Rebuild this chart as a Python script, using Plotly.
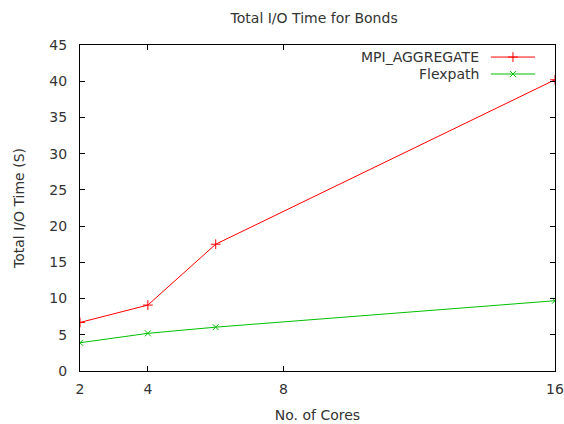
import plotly.graph_objects as go

cores = [2, 4, 6, 16]
mpi_aggregate = [6.7, 9.1, 17.5, 40.2]
flexpath = [3.9, 5.2, 6.05, 9.7]
x_ticks = [2, 4, 8, 16]
y_ticks = [0, 5, 10, 15, 20, 25, 30, 35, 40, 45]

RED = "#ff0000"
GREEN = "#00c000"
FONT = "DejaVu Sans"
TXT = "#333333"
FS = 14

fig = go.Figure()
fig.add_trace(go.Scatter(x=cores, y=mpi_aggregate, mode="lines+markers", name="MPI_AGGREGATE",
                         line=dict(color=RED, width=1),
                         marker=dict(symbol="cross-thin", size=7, line=dict(color=RED, width=1))))
fig.add_trace(go.Scatter(x=cores, y=flexpath, mode="lines+markers", name="Flexpath",
                         line=dict(color=GREEN, width=1),
                         marker=dict(symbol="x-thin", size=6, line=dict(color=GREEN, width=1))))

# legend samples (gnuplot style: text then sample on the right), on a hidden overlay axis
leg_x = [0.865, 0.958]
for name, col, sym, yy in [("MPI_AGGREGATE", RED, "cross-thin", 0.963), ("Flexpath", GREEN, "x-thin", 0.911)]:
    fig.add_trace(go.Scatter(x=leg_x, y=[yy, yy], mode="lines", line=dict(color=col, width=1),
                             xaxis="x2", yaxis="y2", showlegend=False, hoverinfo="skip"))
    fig.add_trace(go.Scatter(x=[sum(leg_x) / 2], y=[yy], mode="markers",
                             marker=dict(symbol=sym, size=7 if sym == "cross-thin" else 6,
                                         line=dict(color=col, width=1)),
                             xaxis="x2", yaxis="y2", showlegend=False, hoverinfo="skip"))
    fig.add_annotation(x=0.845, y=yy, xref="x2", yref="y2", text=name, showarrow=False,
                       xanchor="right", yanchor="middle", font=dict(family=FONT, size=FS, color=TXT))

axis_common = dict(showline=True, linecolor="#000000", linewidth=1, mirror="ticks",
                   ticks="inside", ticklen=5, tickcolor="#000000", showgrid=False, zeroline=False,
                   automargin=False, ticklabeloverflow="allow",
                   tickfont=dict(family=FONT, size=FS, color=TXT))

fig.update_layout(
    width=564, height=424,
    margin=dict(l=80, r=9, t=45, b=53),
    paper_bgcolor="white", plot_bgcolor="white",
    showlegend=False,
    title=dict(text="Total I/O Time for Bonds", x=0.557, xanchor="center", y=0.958, yanchor="middle",
               font=dict(family=FONT, size=FS, color=TXT)),
    xaxis=dict(range=[2, 16], tickvals=x_ticks, ticktext=[str(v) for v in x_ticks],
               ticklabelstandoff=5,
               title=dict(text="No. of Cores", font=dict(family=FONT, size=FS, color=TXT), standoff=14),
               **axis_common),
    yaxis=dict(range=[0, 45], tickvals=y_ticks, ticklabelstandoff=9,
               title=dict(text="Total I/O Time (S)", font=dict(family=FONT, size=FS, color=TXT), standoff=21),
               **axis_common),
    xaxis2=dict(range=[0, 1], overlaying="x", visible=False),
    yaxis2=dict(range=[0, 1], overlaying="y", visible=False),
)

fig.write_html("out.html", config={"displayModeBar": False},
               post_script="document.body.style.margin='0';")
